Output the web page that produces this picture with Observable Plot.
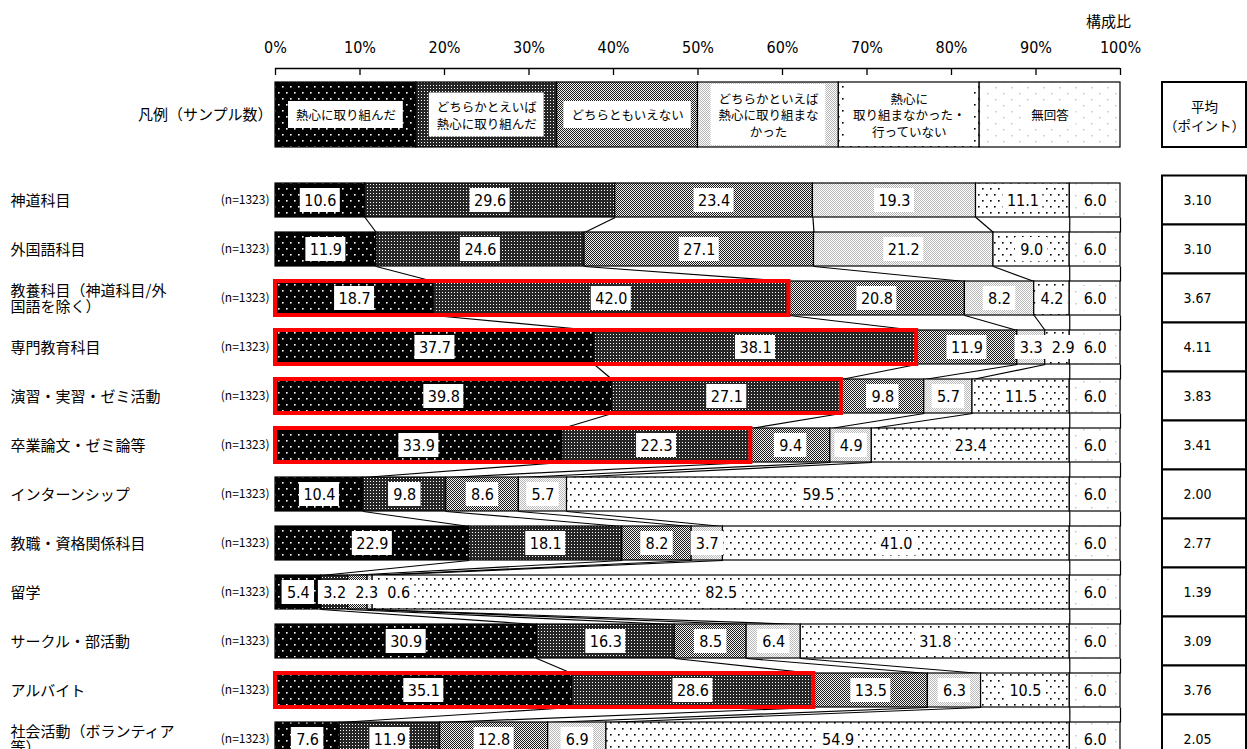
<!DOCTYPE html>
<html><head><meta charset="utf-8">
<script src="https://cdn.jsdelivr.net/npm/d3@7"></script>
<script src="https://cdn.jsdelivr.net/npm/@observablehq/plot@0.6"></script>
<style>
html,body{margin:0;padding:0;background:#fff;overflow:hidden;}
</style></head><body><div id="chart"></div>
<script>
// ---------------- data ----------------
const categories = [
  "神道科目", "外国語科目", "教養科目（神道科目/外\n国語を除く）", "専門教育科目",
  "演習・実習・ゼミ活動", "卒業論文・ゼミ論等", "インターンシップ", "教職・資格関係科目",
  "留学", "サークル・部活動", "アルバイト", "社会活動（ボランティア\n等）"
];
const sampleSizes = [1323, 1323, 1323, 1323, 1323, 1323, 1323, 1323, 1323, 1323, 1323, 1323];
const seriesNames = [
  "熱心に取り組んだ",
  "どちらかとえいば\n熱心に取り組んだ",
  "どちらともいえない",
  "どちらかといえば\n熱心に取り組まな\nかった",
  "熱心に\n取り組まなかった・\n行っていない",
  "無回答"
];
const eager       = [10.6, 11.9, 18.7, 37.7, 39.8, 33.9, 10.4, 22.9, 5.4, 30.9, 35.1, 7.6];
const ratherEager = [29.6, 24.6, 42.0, 38.1, 27.1, 22.3, 9.8, 18.1, 3.2, 16.3, 28.6, 11.9];
const neutral     = [23.4, 27.1, 20.8, 11.9, 9.8, 9.4, 8.6, 8.2, 2.3, 8.5, 13.5, 12.8];
const ratherNot   = [19.3, 21.2, 8.2, 3.3, 5.7, 4.9, 5.7, 3.7, 0.6, 6.4, 6.3, 6.9];
const notAtAll    = [11.1, 9.0, 4.2, 2.9, 11.5, 23.4, 59.5, 41.0, 82.5, 31.8, 10.5, 54.9];
const noAnswer    = [6.0, 6.0, 6.0, 6.0, 6.0, 6.0, 6.0, 6.0, 6.0, 6.0, 6.0, 6.0];
const averages    = [3.10, 3.10, 3.67, 4.11, 3.83, 3.41, 2.00, 2.77, 1.39, 3.09, 3.76, 2.05];
const tickValues  = [0, 10, 20, 30, 40, 50, 60, 70, 80, 90, 100];
const tickLabels  = ["0%", "10%", "20%", "30%", "40%", "50%", "60%", "70%", "80%", "90%", "100%"];
const axisTitle = "構成比";
const legendTitle = "凡例（サンプル数）";
const avgTitle = "平均\n（ポイント）";

// ---------------- layout helpers ----------------
const X0 = 275, X1 = 1120, Y0 = 200, ROW = 49;
const PPX = (X1 - X0) / 100;
const px = v => v / PPX;            // horizontal px length -> % units
const py = v => v / ROW;            // vertical px length -> row units
const xAt = p => (p - X0) / PPX;    // absolute px -> % units
const yAt = p => (p - Y0) / ROW;    // absolute px -> row units
const BAR_H = py(17);

const NUM_FONT = '"Liberation Sans Narrow","DejaVu Sans Condensed","Liberation Sans",sans-serif';
const JP_FONT = '"Noto Sans CJK JP","Noto Sans",sans-serif';

const series = [eager, ratherEager, neutral, ratherNot, notAtAll, noAnswer];
const patIds = ["pat0", "pat1", "pat2", "pat3", "pat4", "pat5"];

// ---------------- derived tables ----------------
const segs = [], labels = [], highlights = [], rowEdges = [];
categories.forEach((cat, i) => {
  const vals = series.map(s => s[i]);
  const total = d3.sum(vals);
  const edges = [0];
  let cum = 0;
  vals.forEach(v => { cum += v; edges.push(cum / total * 100); });
  rowEdges.push(edges);
  vals.forEach((v, k) => segs.push({row: i, k, x1: edges[k], x2: edges[k + 1]}));
  let prev = -Infinity;
  vals.forEach((v, k) => {
    let c = (edges[k] + edges[k + 1]) / 2;
    if (k < vals.length - 1) { c = Math.max(c, prev + px(32)); prev = c; }
    const t = v.toFixed(1);
    labels.push({row: i, x: c, text: t, w: t.length * 7.5 + 10});
  });
  if (eager[i] + ratherEager[i] > 50) highlights.push({row: i, x2: edges[2]});
});
const links = [];
for (let i = 0; i < categories.length - 1; i++) {
  for (let k = 1; k <= series.length; k++) {
    links.push({x1: rowEdges[i][k], y1: i + BAR_H, x2: rowEdges[i + 1][k], y2: i + 1 - BAR_H});
  }
}
const legendSegs = seriesNames.map((name, k) => {
  const lines = name.split("\n");
  const maxLen = d3.max(lines, l => l.length);
  return {k, name, x1: k * 100 / seriesNames.length, x2: (k + 1) * 100 / seriesNames.length,
          w: maxLen * 12.6 + 14, h: lines.length * 17 + 10};
});
const LEG_Y1 = yAt(82), LEG_Y2 = yAt(147), LEG_Y = yAt(114.5);
const AVG_X1 = xAt(1162), AVG_X2 = xAt(1246);
const avgRows = averages.map((a, i) => ({row: i, a}));

const chart = Plot.plot({
  width: 1247,
  height: 770,
  x: {domain: [0, 100], range: [X0, X1], axis: null},
  y: {domain: [0, 11], range: [Y0, Y0 + 11 * ROW], axis: null},
  style: {fontFamily: JP_FONT, fontSize: "14px", background: "#fff", overflow: "visible"},
  marks: [
    // axis
    Plot.ruleY([yAt(68)], {x1: 0, x2: 100, stroke: "#000", strokeWidth: 1.3}),
    Plot.ruleX(tickValues, {x: d => d, y1: yAt(68), y2: yAt(75), stroke: "#000", strokeWidth: 1.3}),
    Plot.text(tickValues, {x: d => d, y: yAt(47), text: (d, i) => tickLabels[i], fontFamily: NUM_FONT, fontSize: 16}),
    Plot.text([axisTitle], {x: xAt(1108), y: yAt(22), text: d => d, fontSize: 15}),
    // legend
    Plot.rect(legendSegs, {x1: "x1", x2: "x2", y1: LEG_Y1, y2: LEG_Y2, fill: d => `url(#${patIds[d.k]})`, stroke: "#000", strokeWidth: 1.2}),
    Plot.rect(legendSegs, {x1: d => (d.x1 + d.x2) / 2 - px(d.w / 2), x2: d => (d.x1 + d.x2) / 2 + px(d.w / 2),
      y1: d => LEG_Y - py(d.h / 2), y2: d => LEG_Y + py(d.h / 2), fill: "#fff"}),
    Plot.text(legendSegs, {x: d => (d.x1 + d.x2) / 2, y: LEG_Y, text: "name", fontSize: 12.5, lineHeight: 1.35}),
    Plot.text([legendTitle], {x: xAt(272), y: LEG_Y, text: d => d, textAnchor: "end", fontSize: 15}),
    Plot.rect([avgTitle], {x1: AVG_X1, x2: AVG_X2, y1: LEG_Y1, y2: LEG_Y2, fill: "#fff", stroke: "#000", strokeWidth: 2}),
    Plot.text([avgTitle], {x: (AVG_X1 + AVG_X2) / 2, y: LEG_Y, text: d => d, fontSize: 13.5, lineHeight: 1.4}),
    // connectors
    Plot.link(links, {x1: "x1", y1: "y1", x2: "x2", y2: "y2", stroke: "#000", strokeWidth: 1.2}),
    // bars
    Plot.rect(segs, {x1: "x1", x2: "x2", y1: d => d.row - BAR_H, y2: d => d.row + BAR_H,
      fill: d => `url(#${patIds[d.k]})`, stroke: "#000", strokeWidth: 1.2}),
    // value labels
    Plot.rect(labels, {x1: d => d.x - px(d.w / 2), x2: d => d.x + px(d.w / 2),
      y1: d => d.row - py(12), y2: d => d.row + py(12), fill: "#fff"}),
    Plot.text(labels, {x: "x", y: "row", text: "text", fontFamily: NUM_FONT, fontSize: 16}),
    // highlight boxes
    Plot.rect(highlights, {x1: 0, x2: "x2", y1: d => d.row - BAR_H, y2: d => d.row + BAR_H,
      fill: "none", stroke: "#ff0000", strokeWidth: 4}),
    // row labels
    Plot.text(categories, {x: xAt(10), y: (d, i) => i, text: d => d, textAnchor: "start", fontSize: 15, lineHeight: 1.1}),
    Plot.text(sampleSizes, {x: xAt(269), y: (d, i) => i, text: d => `(n=${d})`, textAnchor: "end", fontSize: 12}),
    // averages table
    Plot.rect(avgRows, {x1: AVG_X1, x2: AVG_X2, y1: d => d.row - 0.5, y2: d => d.row + 0.5, fill: "#fff", stroke: "#000", strokeWidth: 2}),
    Plot.text(avgRows, {x: xAt(1197), y: "row", text: d => d.a.toFixed(2), fontFamily: NUM_FONT, fontSize: 14})
  ]
});

const NS = "http://www.w3.org/2000/svg";
const defs = document.createElementNS(NS, "defs");
function pattern(id, w, h, bg, rects) {
  const p = document.createElementNS(NS, "pattern");
  p.setAttribute("id", id);
  p.setAttribute("patternUnits", "userSpaceOnUse");
  p.setAttribute("width", w); p.setAttribute("height", h);
  const b = document.createElementNS(NS, "rect");
  b.setAttribute("width", w); b.setAttribute("height", h); b.setAttribute("fill", bg);
  p.appendChild(b);
  rects.forEach(([x, y, rw, rh, c]) => {
    const r = document.createElementNS(NS, "rect");
    r.setAttribute("x", x); r.setAttribute("y", y); r.setAttribute("width", rw); r.setAttribute("height", rh); r.setAttribute("fill", c);
    p.appendChild(r);
  });
  defs.appendChild(p);
}
pattern("pat0", 8, 12, "#000", [[2, 2, 1.6, 1.6, "#fff"], [6, 8, 1.6, 1.6, "#fff"]]);
pattern("pat1", 3, 3, "#262626", [[1, 1, 1, 1, "#fff"]]);
pattern("pat2", 2, 2, "#f2f2f2", [[0, 0, 1, 1, "#1a1a1a"], [1, 1, 1, 1, "#1a1a1a"]]);
pattern("pat3", 2, 2, "#ffffff", [[0, 0, 1, 1, "#b8b8b8"], [1, 1, 1, 1, "#b8b8b8"]]);
pattern("pat4", 8, 12, "#fff", [[2, 2, 1.6, 1.6, "#000"], [6, 8, 1.6, 1.6, "#000"]]);
pattern("pat5", 16, 12, "#fff", [[3, 3, 1.5, 1.5, "#c4c4c4"], [11, 9, 1.5, 1.5, "#c4c4c4"]]);
chart.insertBefore(defs, chart.firstChild);
document.getElementById("chart").appendChild(chart);
</script></body></html>
